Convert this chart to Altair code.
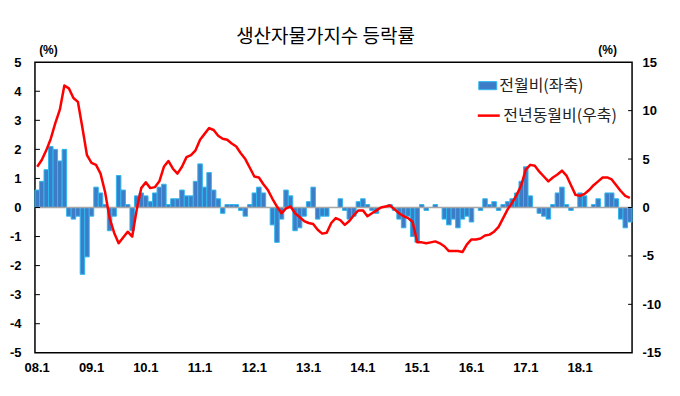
import altair as alt
import pandas as pd

title_text = "생산자물가지수 등락률"
series_names = ["전월비(좌축)", "전년동월비(우축)"]
year_labels = ["08.1", "09.1", "10.1", "11.1", "12.1", "13.1", "14.1", "15.1", "16.1", "17.1", "18.1"]
left_values = [-5, -4, -3, -2, -1, 0, 1, 2, 3, 4, 5]
left_inner_ticks = [-4, -3, -2, -1, 0, 1, 2, 3, 4]
right_values = [-15, -10, -5, 0, 5, 10, 15]
right_inner_ticks = [-10, -5, 0, 5, 10]

# month-on-month change (%), left axis
mom_2008 = [0.6, 0.9, 1.3, 2.1, 2.0, 1.6, 2.0, -0.3, -0.4, -0.3, -2.3, -1.7]
mom_2009 = [-0.3, 0.7, 0.5, 0.1, -0.8, -0.3, 1.1, 0.6, 0.1, -0.8, 0.4, 0.5]
mom_2010 = [0.4, 0.2, 0.5, 0.7, 0.8, 0.1, 0.3, 0.3, 0.6, 0.4, 0.4, 0.9]
mom_2011 = [1.5, 0.7, 1.2, 0.6, 0.3, -0.2, 0.1, 0.1, 0.1, -0.1, -0.3, 0.1]
mom_2012 = [0.5, 0.7, 0.5, 0.0, -0.6, -1.2, -0.4, 0.6, 0.4, -0.8, -0.7, -0.3]
mom_2013 = [0.2, 0.7, -0.4, -0.3, -0.3, 0.0, 0.0, 0.3, -0.1, -0.4, -0.3, 0.2]
mom_2014 = [0.3, 0.1, -0.1, -0.2, 0.0, 0.0, 0.1, -0.1, -0.4, -0.7, -0.3, -1.0]
mom_2015 = [-1.2, 0.1, -0.1, 0.0, 0.1, 0.0, -0.4, -0.6, -0.4, -0.7, -0.4, -0.3]
mom_2016 = [-0.5, 0.0, -0.1, 0.3, 0.1, 0.2, -0.1, 0.1, 0.2, 0.3, 0.5, 0.9]
mom_2017 = [1.4, 0.4, 0.0, -0.2, -0.3, -0.4, 0.1, 0.5, 0.7, 0.1, -0.1, 0.0]
mom_2018 = [0.5, 0.4, 0.0, 0.1, 0.3, 0.0, 0.5, 0.5, 0.3, -0.4, -0.7, -0.5]

# year-on-year change (%), right axis
yoy_2008 = [4.2, 4.9, 5.9, 7.1, 8.7, 10.1, 12.6, 12.3, 11.3, 10.9, 8.2, 5.4]
yoy_2009 = [4.6, 4.4, 3.5, 1.6, -1.1, -2.6, -3.7, -3.1, -2.5, -3.0, -0.2, 2.0]
yoy_2010 = [2.6, 2.0, 2.1, 2.7, 4.2, 4.8, 4.0, 3.5, 4.2, 5.2, 5.4, 5.9]
yoy_2011 = [7.0, 7.6, 8.2, 8.0, 7.4, 7.1, 7.0, 6.6, 6.3, 5.6, 5.0, 4.1]
yoy_2012 = [3.2, 3.1, 2.4, 1.8, 0.9, 0.1, -0.6, -0.1, 0.1, -0.6, -1.0, -1.4]
yoy_2013 = [-1.6, -1.7, -2.3, -2.7, -2.6, -1.6, -1.1, -1.3, -1.8, -1.4, -0.8, -0.3]
yoy_2014 = [-0.3, -0.9, -0.6, -0.3, 0.0, 0.1, 0.2, -0.2, -0.6, -0.9, -1.1, -1.5]
yoy_2015 = [-3.6, -3.6, -3.7, -3.6, -3.5, -3.7, -4.0, -4.5, -4.5, -4.5, -4.6, -3.8]
yoy_2016 = [-3.3, -3.3, -3.2, -2.9, -2.8, -2.5, -2.0, -1.1, -0.2, 0.5, 1.3, 2.3]
yoy_2017 = [3.9, 4.4, 4.3, 3.7, 3.2, 2.7, 3.1, 3.4, 3.8, 3.3, 2.3, 1.3]
yoy_2018 = [1.2, 1.4, 1.8, 2.3, 2.7, 3.1, 3.1, 2.9, 2.3, 1.7, 1.2, 1.0]

mom = (mom_2008 + mom_2009 + mom_2010 + mom_2011 + mom_2012 + mom_2013 +
       mom_2014 + mom_2015 + mom_2016 + mom_2017 + mom_2018)
yoy = (yoy_2008 + yoy_2009 + yoy_2010 + yoy_2011 + yoy_2012 + yoy_2013 +
       yoy_2014 + yoy_2015 + yoy_2016 + yoy_2017 + yoy_2018)

df = pd.DataFrame({
    "idx": list(range(len(mom))),
    "mom": mom,
    "yoy": yoy,
    "s1": series_names[0],
    "s2": series_names[1],
})

NUM_FONT = "Liberation Sans"
KR_FONT = "Noto Sans CJK KR"
BAR_FILL = "#3D7CC6"
BAR_EDGE = "#2FB8F0"

label_array = "[" + ",".join("'" + s + "'" for s in year_labels) + "]"

x_enc = alt.X(
    "idx:O",
    scale=alt.Scale(paddingInner=0, paddingOuter=0),
    axis=alt.Axis(
        values=[12 * k for k in range(len(year_labels))],
        labelExpr=label_array + "[floor(datum.value / 12)]",
        ticks=False, domain=False, grid=False, title=None, labelAngle=0,
        labelFont=NUM_FONT, labelFontWeight="bold", labelFontSize=13,
        labelColor="#000", labelPadding=9,
    ),
)

left_scale = alt.Scale(domain=[-5, 5], nice=False, zero=False)
right_scale = alt.Scale(domain=[-15, 15], nice=False, zero=False)

bars = alt.Chart(df).mark_bar(stroke=BAR_EDGE, strokeWidth=1).encode(
    x=x_enc,
    y=alt.Y(
        "mom:Q", scale=left_scale,
        axis=alt.Axis(
            values=left_values, ticks=False, domain=False, grid=False,
            labelExpr="'' + datum.value",
            title="(%)", titleAngle=0, titleX=13, titleY=-13,
            titleAlign="center", titleBaseline="middle",
            titleFont=NUM_FONT, titleFontWeight="bold", titleFontSize=12,
            labelFont=NUM_FONT, labelFontWeight="bold", labelFontSize=13,
            labelColor="#000", labelPadding=14,
        ),
    ),
    fill=alt.Fill(
        "s1:N",
        scale=alt.Scale(domain=[series_names[0]], range=[BAR_FILL]),
        legend=alt.Legend(
            orient="none", legendX=444, legendY=14, title=None,
            symbolType="M-1,-0.45L1,-0.45L1,0.45L-1,0.45Z", symbolSize=324,
            symbolStrokeColor=BAR_EDGE, symbolStrokeWidth=1,
            labelFont=KR_FONT, labelFontSize=16, labelColor="#222",
            labelOffset=2,
        ),
    ),
)

zero_line = alt.Chart(pd.DataFrame({"z": [0]})).mark_rule(
    color="#A6A6A6", strokeWidth=1.5
).encode(y=alt.Y("z:Q", scale=left_scale, axis=None))

left_ticks = alt.Chart(pd.DataFrame({"v": left_inner_ticks})).mark_rule(
    color="#000", strokeWidth=1
).encode(
    y=alt.Y("v:Q", scale=left_scale, axis=None),
    x=alt.value(0), x2=alt.value(5),
)

right_ticks = alt.Chart(pd.DataFrame({"v": right_inner_ticks})).mark_rule(
    color="#000", strokeWidth=1
).encode(
    y=alt.Y("v:Q", scale=right_scale, axis=None),
    x=alt.value(594), x2=alt.value(598),
)

line = alt.Chart(df).mark_line(strokeWidth=2.5, strokeJoin="round").encode(
    x=alt.X("idx:O"),
    y=alt.Y(
        "yoy:Q", scale=right_scale,
        axis=alt.Axis(
            orient="right", values=right_values, ticks=False, domain=False,
            grid=False, labelExpr="'' + datum.value",
            title="(%)", titleAngle=0, titleX=-25, titleY=-13,
            titleAlign="center", titleBaseline="middle",
            titleFont=NUM_FONT, titleFontWeight="bold", titleFontSize=12,
            labelFont=NUM_FONT, labelFontWeight="bold", labelFontSize=13,
            labelColor="#000", labelPadding=10,
        ),
    ),
    stroke=alt.Stroke(
        "s2:N",
        scale=alt.Scale(domain=[series_names[1]], range=["#FF0000"]),
        legend=alt.Legend(
            orient="none", legendX=442, legendY=41, title=None,
            symbolType="stroke", symbolSize=484, symbolStrokeWidth=2.5,
            labelFont=KR_FONT, labelFontSize=16, labelColor="#222",
            labelOffset=2,
        ),
    ),
)

chart = alt.layer(bars, zero_line, left_ticks, right_ticks, line).resolve_scale(
    y="independent"
).properties(
    width=598,
    height=291,
    autosize=alt.AutoSizeParams(type="none"),
    padding={"left": 27, "top": 54, "right": 40, "bottom": 35},
    title=alt.TitleParams(
        title_text, font=KR_FONT, fontSize=19, fontWeight="normal",
        color="#000", anchor="middle", offset=6, dx=-8, dy=10,
    ),
).configure_view(stroke="#000", strokeWidth=1.5)

chart.save("out.html", embed_options={"renderer": "svg", "actions": False})
